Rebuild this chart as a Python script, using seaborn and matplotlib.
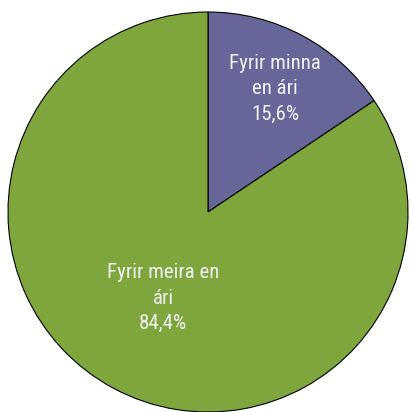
import matplotlib
matplotlib.use('Agg')
import matplotlib.pyplot as plt
import seaborn as sns
sns.set_style('white')
plt.rcParams['font.family'] = ['Roboto Condensed', 'Archivo Narrow', 'DejaVu Sans']

labels = ['Fyrir minna\nen ári', 'Fyrir meira en\nári']
values = [15.6, 84.4]
colors = ['#666699', '#7ea63c']

# label anchors inside the unit pie (layout only)
label_pos = [(0.335, 0.615), (-0.225, -0.43)]

fig = plt.figure(figsize=(4.11, 4.12), dpi=100)
ax = fig.add_axes([8 / 411, 0 / 412, 400 / 411, 400 / 412])
wedges, _ = ax.pie(values, colors=colors, startangle=90, counterclock=False,
                   radius=1, wedgeprops=dict(edgecolor='black', linewidth=0.8))
for lab, v, (x, y) in zip(labels, values, label_pos):
    txt = f'{lab}\n{v:.1f}%'.replace('.', ',')
    ax.text(x, y, txt, ha='center', va='center', color='#f2f2f2',
            fontsize=15, linespacing=1.42)
ax.set_xlim(-1, 1)
ax.set_ylim(-1, 1)
ax.set_aspect('equal')
ax.axis('off')
fig.savefig('out.png', dpi=100)
